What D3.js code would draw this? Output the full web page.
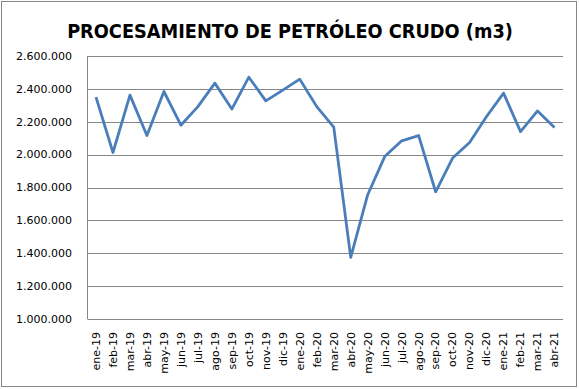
<!DOCTYPE html>
<meta charset="utf-8">
<script src="https://d3js.org/d3.v7.min.js"></script>
<style>
  body { margin: 0; background: #fff; }
  text { font-family: "DejaVu Sans", sans-serif; }
</style>
<body>
<div id="chart"></div>
<script>
  // data
  const months = ["ene-19", "feb-19", "mar-19", "abr-19", "may-19", "jun-19", "jul-19", "ago-19",
    "sep-19", "oct-19", "nov-19", "dic-19", "ene-20", "feb-20", "mar-20", "abr-20", "may-20",
    "jun-20", "jul-20", "ago-20", "sep-20", "oct-20", "nov-20", "dic-20", "ene-21", "feb-21",
    "mar-21", "abr-21"];
  const crude = [2350000, 2013000, 2362000, 2116000, 2384000, 2179000, 2292000, 2435000,
    2277000, 2471000, 2327000, 2392000, 2459000, 2292000, 2167000, 1375000, 1756000,
    1988000, 2084000, 2116000, 1774000, 1979000, 2074000, 2232000, 2374000, 2140000,
    2266000, 2165000];
  const yTicks = [1000000, 1200000, 1400000, 1600000, 1800000, 2000000, 2200000, 2400000, 2600000];
  const title = "PROCESAMIENTO DE PETRÓLEO CRUDO (m3)";

  const width = 579, height = 389;
  const margin = { top: 56, right: 16, bottom: 70, left: 87.5 };

  const svg = d3.select("#chart").append("svg")
    .attr("width", width)
    .attr("height", height);

  // outer chart frame
  svg.append("rect")
    .attr("x", 1.5).attr("y", 1.5)
    .attr("width", 575).attr("height", 385)
    .attr("fill", "#fff")
    .attr("stroke", "#868686");

  const x = d3.scaleBand()
    .domain(months)
    .range([margin.left, width - margin.right]);

  const y = d3.scaleLinear()
    .domain([1000000, 2600000])
    .range([height - margin.bottom, margin.top]);

  const fmt = d => d3.format(",")(d).replace(/,/g, ".");

  // gridlines
  svg.append("g")
    .selectAll("line")
    .data(yTicks)
    .join("line")
    .attr("x1", margin.left)
    .attr("x2", width - margin.right)
    .attr("y1", d => Math.round(y(d)) + 0.5)
    .attr("y2", d => Math.round(y(d)) + 0.5)
    .attr("stroke", "#868686");

  // y axis line
  svg.append("line")
    .attr("x1", margin.left).attr("x2", margin.left)
    .attr("y1", margin.top).attr("y2", height - margin.bottom)
    .attr("stroke", "#868686");

  // y labels
  svg.append("g")
    .selectAll("text")
    .data(yTicks)
    .join("text")
    .attr("x", 72)
    .attr("y", d => y(d))
    .attr("dy", "0.35em")
    .attr("text-anchor", "end")
    .style("font-size", "11px")
    .text(fmt);

  // x labels, rotated
  svg.append("g")
    .selectAll("text")
    .data(months)
    .join("text")
    .attr("transform", d => `translate(${x(d) + x.bandwidth() / 2}, 332) rotate(-90)`)
    .attr("dy", "0.35em")
    .attr("text-anchor", "end")
    .style("font-size", "11px")
    .text(d => d);

  // the line
  const line = d3.line()
    .x((d, i) => x(months[i]) + x.bandwidth() / 2)
    .y(d => y(d));

  svg.append("path")
    .datum(crude)
    .attr("d", line)
    .attr("fill", "none")
    .attr("stroke", "#4A7EBB")
    .attr("stroke-width", 2.8)
    .attr("stroke-linejoin", "round");

  // title, sized to the width it has in the picture
  const t = svg.append("text")
    .attr("x", 290)
    .attr("y", 37.5)
    .attr("text-anchor", "middle")
    .style("font-family", "'DejaVu Sans Condensed', 'Open Sans', sans-serif")
    .style("font-weight", "bold")
    .style("font-size", "22px")
    .text(title);
  const w = t.node().getComputedTextLength();
  t.style("font-size", (22 * 446 / w).toFixed(2) + "px");
</script>
</body>
